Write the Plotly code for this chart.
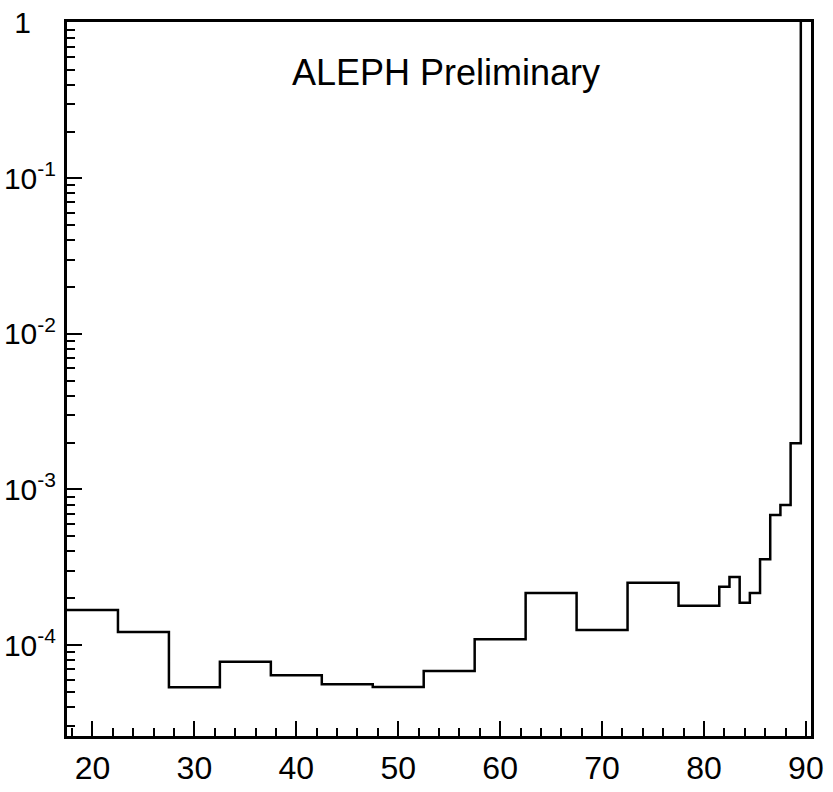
import plotly.graph_objects as go

# Bin edges (GeV) and contents
bin_edges = [17.5, 22.5, 27.5, 32.5, 37.5, 42.5, 47.5, 52.5, 57.5, 62.5, 67.5, 72.5,
             77.5, 81.5, 82.5, 83.5, 84.5, 85.5, 86.5, 87.5, 88.5, 89.5, 90.5]
bin_values = [1.68e-4, 1.21e-4, 5.35e-5, 7.8e-5, 6.4e-5, 5.6e-5, 5.37e-5, 6.8e-5,
              1.09e-4, 2.16e-4, 1.25e-4, 2.51e-4, 1.79e-4, 2.37e-4, 2.74e-4, 1.87e-4,
              2.16e-4, 3.56e-4, 6.84e-4, 7.94e-4, 1.98e-3, 3.0]

x_tick_vals = [20, 30, 40, 50, 60, 70, 80, 90]
x_tick_text = ["20", "30", "40", "50", "60", "70", "80", "90"]
y_tick_vals = [1e-4, 1e-3, 1e-2, 1e-1, 1]
y_tick_text = ["10<sup>-4</sup>", "10<sup>-3</sup>", "10<sup>-2</sup>", "10<sup>-1</sup>", "1   "]

step_x = list(bin_edges)
step_y = list(bin_values) + [bin_values[-1]]

fig = go.Figure()
fig.add_trace(go.Scatter(
    x=step_x, y=step_y, mode="lines", line_shape="hv",
    line=dict(color="black", width=2.5), showlegend=False, hoverinfo="skip",
))

font = dict(family="Liberation Sans, Arial, sans-serif", color="black")

fig.update_layout(
    width=833, height=792,
    margin=dict(l=67, r=22, t=22, b=56),
    paper_bgcolor="white", plot_bgcolor="white",
    font=font,
    annotations=[dict(
        text="ALEPH Preliminary", xref="paper", yref="paper",
        x=0.51, y=0.929, xanchor="center", yanchor="middle",
        showarrow=False, font=dict(size=36, **font),
    )],
)

fig.update_xaxes(
    range=[17.5, 90.5], showgrid=False, zeroline=False, automargin=False,
    showline=True, linecolor="black", linewidth=3, mirror=True,
    tickmode="array", tickvals=x_tick_vals, ticktext=x_tick_text,
    ticks="inside", ticklen=15, tickwidth=2, tickcolor="black",
    tickfont=dict(size=32, **font), ticklabelstandoff=2,
    minor=dict(ticks="inside", ticklen=8, tickwidth=2, tickcolor="black",
               dtick=2, tick0=20, showgrid=False),
)
fig.update_yaxes(
    type="log", range=[-4.585, 0.005], showgrid=False, zeroline=False, automargin=False,
    showline=True, linecolor="black", linewidth=3, mirror=True,
    tickmode="array", tickvals=y_tick_vals, ticktext=y_tick_text,
    ticks="inside", ticklen=15, tickwidth=2, tickcolor="black",
    tickfont=dict(size=30, **font), ticklabelstandoff=2,
    minor=dict(ticks="inside", ticklen=8, tickwidth=2, tickcolor="black",
               dtick="D1", showgrid=False),
)

fig.write_html("out.html")
